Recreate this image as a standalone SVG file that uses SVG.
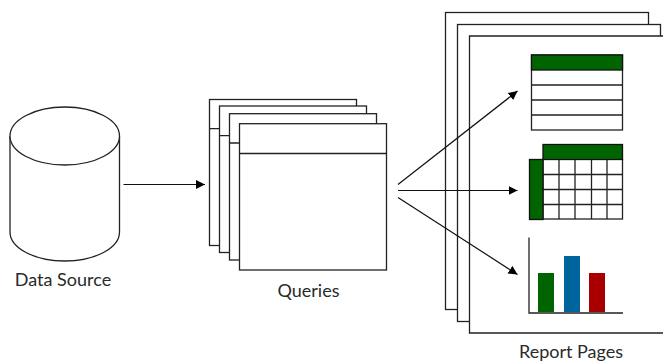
<svg xmlns="http://www.w3.org/2000/svg" width="663" height="362" viewBox="0 0 663 362">
<style>
.s{fill:#fff;stroke:#222;stroke-width:1.3}
.n{fill:none;stroke:#222;stroke-width:1.3}
.g{fill:#006400;stroke:#111;stroke-width:1.3}
.c{fill:none;stroke:#111;stroke-width:1.2}
.t{font-family:"Lato","Liberation Sans",sans-serif;font-size:18px;fill:#2a2a2a;text-anchor:middle}
</style>
<defs>
<marker id="a" markerUnits="userSpaceOnUse" markerWidth="10" markerHeight="10" refX="9" refY="5" orient="auto"><path d="M0 0.500L9 5L0 9.500Z" fill="#000"/></marker>
</defs>
<g id="data-source">
<path class="s" d="M10 136V232A54.75 29 0 0 0 119.5 232V136"/>
<ellipse class="s" cx="64.75" cy="136" rx="54.75" ry="29"/>
<text class="t" x="63" y="286">Data Source</text>
</g>
<g id="queries">
<rect class="s" x="209.5" y="99.5" width="147" height="146"/><path class="n" d="M209.5 128.7H356.5"/>
<rect class="s" x="219.5" y="106" width="147" height="146.500"/><path class="n" d="M219.5 135.700H366.500"/>
<rect class="s" x="229.5" y="113.700" width="147" height="146.300"/><path class="n" d="M229.500 143H376.500"/>
<rect class="s" x="239.5" y="123.700" width="147" height="146.300"/><path class="n" d="M239.500 153.500H386.500"/>
<text class="t" x="308.500" y="297">Queries</text>
</g>
<g id="report-pages">
<rect class="s" x="445.500" y="12.500" width="203" height="297"/>
<rect class="s" x="457.500" y="24.500" width="203" height="297"/>
<path class="s" d="M664 36H469.500V333H664"/>
<text class="t" x="571" y="358">Report Pages</text>
</g>
<g id="table">
<rect class="s" x="531.500" y="55" width="91" height="75"/>
<rect class="g" x="531.500" y="55" width="91" height="15"/>
<path class="n" d="M531.500 85H622.500M531.500 100H622.500M531.500 115H622.500"/>
</g>
<g id="pivot-table">
<rect class="s" x="543" y="159" width="79.500" height="60"/>
<path class="n" d="M543 174.500H622.500M543 189.500H622.500M543 204.500H622.500M559 159V219M575 159V219M591.500 159V219M607 159V219"/>
<rect class="g" x="543" y="144.500" width="79.500" height="15"/>
<rect class="g" x="529.500" y="159.500" width="13.500" height="60"/>
</g>
<g id="bar-chart">
<rect x="538" y="273" width="16" height="39" fill="#006400"/>
<rect x="564" y="256" width="16" height="56" fill="#00659c"/>
<rect x="589" y="273" width="16" height="39" fill="#a80000"/>
<path class="n" d="M529 237.500V313H623"/>
</g>
<g id="connectors">
<path class="c" marker-end="url(#a)" d="M123.500 184.500H205"/>
<path class="c" marker-end="url(#a)" d="M398 184.500L517.500 91"/>
<path class="c" marker-end="url(#a)" d="M398 190.500H517.500"/>
<path class="c" marker-end="url(#a)" d="M398 197.500L517.500 274.500"/>
</g>
</svg>
